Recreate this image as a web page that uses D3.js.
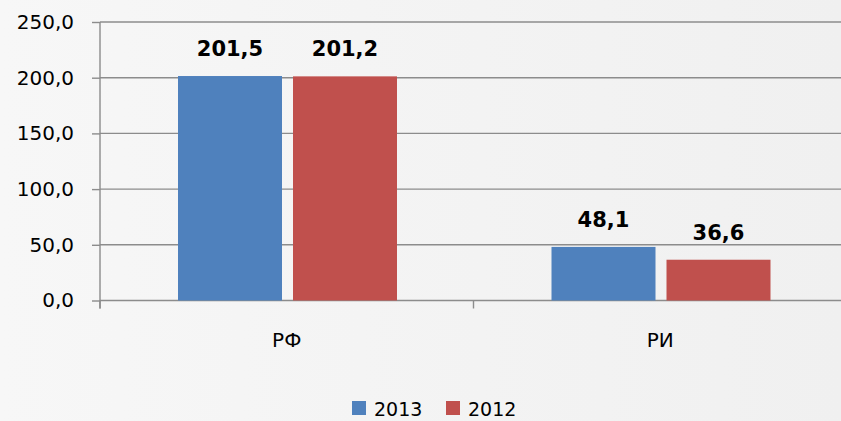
<!DOCTYPE html>
<html><head><meta charset="utf-8">
<script src="https://cdn.jsdelivr.net/npm/d3@7"></script>
<style>html,body{margin:0;padding:0;background:#f3f3f3;}svg{display:block;font-family:"DejaVu Sans",sans-serif;}</style>
</head><body>
<svg id="c" width="841" height="421"></svg>
<script>
const categories = ["РФ", "РИ"];
const seriesNames = ["2013", "2012"];
const values2013 = [201.5, 48.1];
const values2012 = [201.2, 36.6];
const yTicks = [0, 50, 100, 150, 200, 250];
const colors = ["#4f81bd", "#c0504d"];

(function(){
const svg = d3.select("#c");
const grad = svg.append("defs").append("linearGradient").attr("id","bg").attr("x1","0").attr("x2","1");
grad.append("stop").attr("offset","0").attr("stop-color","#f7f7f7");
grad.append("stop").attr("offset","1").attr("stop-color","#f0f0f0");
svg.append("rect").attr("width",841).attr("height",421).attr("fill","url(#bg)");

const pl = 100, pr = 847, pt = 22, pb = 300.5;
const y = d3.scaleLinear().domain([0,250]).range([pb, pt]);
const x0 = d3.scaleBand().domain(categories).range([pl, pr]);
const x1 = d3.scaleBand().domain(seriesNames).range([78, 297]).paddingInner(0.0957);

const fmt = v => d3.format(".1f")(v).replace(".", ",");
const axisCol = "#8c8c8c";

// gridlines
svg.append("g").selectAll("line").data(yTicks.filter(d=>d>0)).join("line")
  .attr("x1", pl).attr("x2", 841).attr("y1", d=>y(d)).attr("y2", d=>y(d))
  .attr("stroke", axisCol).attr("stroke-width", 1.4);

// y axis
const ya = svg.append("g").attr("transform", `translate(${pl},0)`)
  .call(d3.axisLeft(y).tickValues(yTicks).tickFormat(fmt).tickSize(8).tickPadding(18));
ya.select(".domain").attr("stroke",axisCol).attr("stroke-width",1.4).attr("d",`M0,${pt}V${pb+8}`);
ya.selectAll(".tick line").attr("stroke",axisCol).attr("stroke-width",1.4);
ya.selectAll("text").attr("font-size",20).attr("fill","#000").attr("font-family","'DejaVu Sans',sans-serif");

// x axis
const xa = svg.append("g").attr("transform", `translate(0,${pb})`);
xa.append("line").attr("x1", pl).attr("x2", 841).attr("stroke",axisCol).attr("stroke-width",1.4);
xa.selectAll("line.t").data([pl, x0(categories[1])]).join("line").attr("class","t")
  .attr("x1",d=>d).attr("x2",d=>d).attr("y1",0).attr("y2",8).attr("stroke",axisCol).attr("stroke-width",1.4);
xa.selectAll("text").data(categories).join("text")
  .attr("x", d=>x0(d)+x0.bandwidth()/2).attr("y", 46)
  .attr("text-anchor","middle").attr("font-size",20).attr("fill","#000").text(d=>d);

const data = categories.map((c,i)=>({c, vals:[values2013[i], values2012[i]]}));
const g = svg.append("g").selectAll("g").data(data).join("g")
  .attr("transform", d=>`translate(${x0(d.c)},0)`);
g.selectAll("rect").data(d=>d.vals.map((v,k)=>({v,k}))).join("rect")
  .attr("x", d=>x1(seriesNames[d.k])).attr("width", x1.bandwidth())
  .attr("y", d=>y(d.v)).attr("height", d=>pb - y(d.v)).attr("fill", d=>colors[d.k]);
g.selectAll("text").data(d=>d.vals.map((v,k)=>({v,k}))).join("text")
  .attr("x", d=>x1(seriesNames[d.k]) + x1.bandwidth()/2).attr("y", d=>y(d.v)-20)
  .attr("text-anchor","middle").attr("font-size",21).attr("font-weight","bold").attr("fill","#000")
  .text(d=>fmt(d.v));

// legend
const lg = svg.append("g").attr("transform","translate(352,401)");
seriesNames.forEach((s,i)=>{
  const gx = i*94;
  lg.append("rect").attr("x",gx).attr("y",0).attr("width",14).attr("height",14).attr("fill",colors[i]);
  lg.append("text").attr("x",gx+22).attr("y",15).attr("font-size",19).attr("fill","#000").text(s);
});
})();
</script>
</body></html>
